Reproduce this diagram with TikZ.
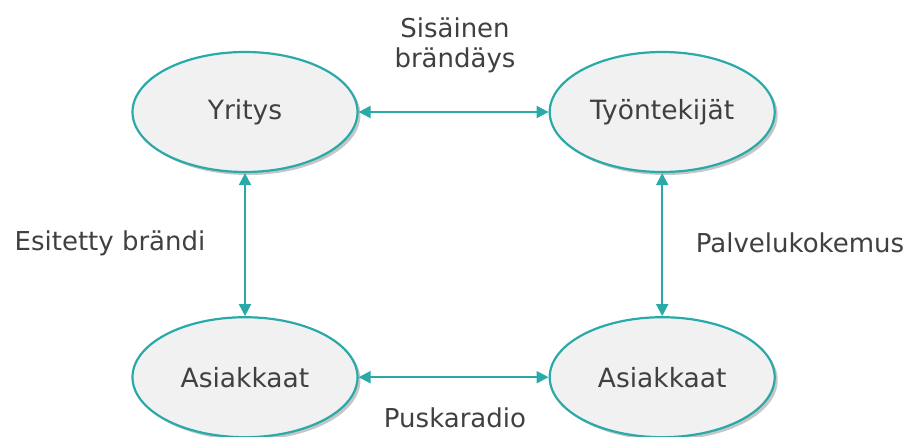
\documentclass[tikz,border=0pt]{standalone}
\usepackage{fontspec}
\setmainfont{DejaVu Sans}
\usetikzlibrary{arrows.meta,positioning,shapes.geometric,shadows}
\definecolor{teal}{HTML}{2AA9A9}
\definecolor{fog}{HTML}{F1F1F1}
\definecolor{ink}{HTML}{404040}
\tikzset{
  party/.style={ellipse,draw=teal,line width=2.2pt,fill=fog,minimum width=225pt,minimum height=120pt,font=\fontsize{26.5}{30}\selectfont,text=ink,
    drop shadow={shadow xshift=3pt,shadow yshift=-3pt,opacity=0.45}},
  link/.style={{Triangle[length=12pt,width=12pt]}-{Triangle[length=12pt,width=12pt]},line width=2pt,teal},
  tag/.style={font=\fontsize{26}{30}\selectfont,text=ink,align=center}
}
\begin{document}
\begin{tikzpicture}[x=1pt,y=-1pt]
    \useasboundingbox (0,0) rectangle (909,436);
    \node[party] (yritys) at (245,112) {Yritys};
    \node[party,right=190pt of yritys] (tyontekijat) {Työntekijät};
    \node[party,below=143pt of yritys] (asiakkaat) {Asiakkaat};
    \node[party,below=143pt of tyontekijat] (asiakkaat2) {Asiakkaat};
    \draw[link] (yritys) -- (tyontekijat);
    \draw[link] (yritys) -- (asiakkaat);
    \draw[link] (tyontekijat) -- (asiakkaat2);
    \draw[link] (asiakkaat) -- (asiakkaat2);
    \node[tag] (sisainen) at (455,45) {Sisäinen\\brändäys};
    \node[tag] (esitetty) at (110,243) {Esitetty brändi};
    \node[tag] (palvelu) at (800,243) {Palvelukokemus};
    \node[tag] (puska) at (455,418) {Puskaradio};
\end{tikzpicture}
\end{document}
